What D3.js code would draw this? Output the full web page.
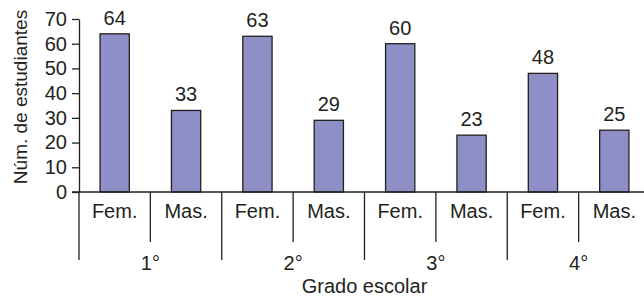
<!doctype html>
<html>
  <head>
    <meta charset="utf-8">
    <script src="https://cdn.jsdelivr.net/npm/d3@7"></script>
    <style>
      body { margin: 0; background: #fff; }
      text { font-family: "Liberation Sans", Arial, sans-serif; fill: #231f20; }
    </style>
  </head>
  <body>
    <script>
    // data
    var grades = ["1°", "2°", "3°", "4°"];
    var sexes = ["Fem.", "Mas."];
    var fem = [64, 63, 60, 48];
    var mas = [33, 29, 23, 25];
    var yTicks = [0, 10, 20, 30, 40, 50, 60, 70];

    var width = 644;
    var height = 299;

    // plot area (right edge runs past the window, as in the reference)
    var plotLeft = 79, plotRight = 650, plotTop = 19, plotBottom = 192;

    var rows = [];
    grades.forEach(function(g, i) {
      rows.push({grade: g, sex: sexes[0], value: fem[i]});
      rows.push({grade: g, sex: sexes[1], value: mas[i]});
    });

    var svg = d3.select("body")
              .append("svg")
              .attr("width", width)
              .attr("height", height);

    var x0 = d3.scaleBand().domain(grades).range([plotLeft, plotRight]).padding(0);
    var x1 = d3.scaleBand().domain(sexes).range([0, x0.bandwidth()])
               .paddingInner(0.59).paddingOuter(0.295);
    var y = d3.scaleLinear().domain([0, 70]).range([plotBottom, plotTop]);

    var ink = "#231f20";

    // y axis
    var yAxis = svg.append("g")
      .attr("transform", "translate(" + plotLeft + ",0)")
      .call(d3.axisLeft(y).tickValues(yTicks).tickSize(7).tickSizeOuter(0).tickPadding(5));
    yAxis.selectAll("path, line").attr("stroke", ink).attr("stroke-width", 1.3);
    yAxis.selectAll("text").attr("font-size", "20px").attr("fill", ink)
      .style("font-family", '"Liberation Sans", Arial, sans-serif');

    // bars
    svg.selectAll("rect.bar")
      .data(rows)
      .enter().append("rect")
      .attr("class", "bar")
      .attr("x", function(d) { return x0(d.grade) + x1(d.sex); })
      .attr("y", function(d) { return y(d.value); })
      .attr("width", x1.bandwidth())
      .attr("height", function(d) { return y(0) - y(d.value); })
      .attr("fill", "#8f8fc7")
      .attr("stroke", ink)
      .attr("stroke-width", 1.3);

    // value labels
    svg.selectAll("text.val")
      .data(rows)
      .enter().append("text")
      .attr("class", "val")
      .attr("x", function(d) { return x0(d.grade) + x1(d.sex) + x1.bandwidth() / 2; })
      .attr("y", function(d) { return y(d.value) - 9; })
      .attr("text-anchor", "middle")
      .attr("font-size", "20px")
      .text(function(d) { return d.value; });

    // x axis baseline
    svg.append("line")
      .attr("x1", plotLeft - 7).attr("x2", plotRight)
      .attr("y1", y(0)).attr("y2", y(0))
      .attr("stroke", ink).attr("stroke-width", 1.3);

    // group separators (long) and sex separators (short)
    var groupEdges = grades.map(function(g) { return x0(g); }).concat([plotRight]);
    svg.selectAll("line.gsep")
      .data(groupEdges)
      .enter().append("line")
      .attr("class", "gsep")
      .attr("x1", function(d) { return d; }).attr("x2", function(d) { return d; })
      .attr("y1", y(0)).attr("y2", 260)
      .attr("stroke", ink).attr("stroke-width", 1.3);

    svg.selectAll("line.ssep")
      .data(grades)
      .enter().append("line")
      .attr("class", "ssep")
      .attr("x1", function(d) { return x0(d) + x0.bandwidth() / 2; })
      .attr("x2", function(d) { return x0(d) + x0.bandwidth() / 2; })
      .attr("y1", y(0)).attr("y2", 242)
      .attr("stroke", ink).attr("stroke-width", 1.3);

    // sex labels
    svg.selectAll("text.sex")
      .data(rows)
      .enter().append("text")
      .attr("class", "sex")
      .attr("x", function(d) { return x0(d.grade) + x1(d.sex) + x1.bandwidth() / 2; })
      .attr("y", 218)
      .attr("text-anchor", "middle")
      .attr("font-size", "20px")
      .text(function(d) { return d.sex; });

    // grade labels
    svg.selectAll("text.grade")
      .data(grades)
      .enter().append("text")
      .attr("class", "grade")
      .attr("x", function(d) { return x0(d) + x0.bandwidth() / 2; })
      .attr("y", 270)
      .attr("text-anchor", "middle")
      .attr("font-size", "20px")
      .text(function(d) { return d; });

    // axis titles
    svg.append("text")
      .attr("x", (plotLeft + plotRight) / 2)
      .attr("y", 293)
      .attr("text-anchor", "middle")
      .attr("font-size", "20px")
      .text("Grado escolar");

    svg.append("text")
      .attr("transform", "translate(27,97) rotate(-90)")
      .attr("text-anchor", "middle")
      .attr("font-size", "19px")
      .text("Núm. de estudiantes");
    </script>
  </body>
</html>
